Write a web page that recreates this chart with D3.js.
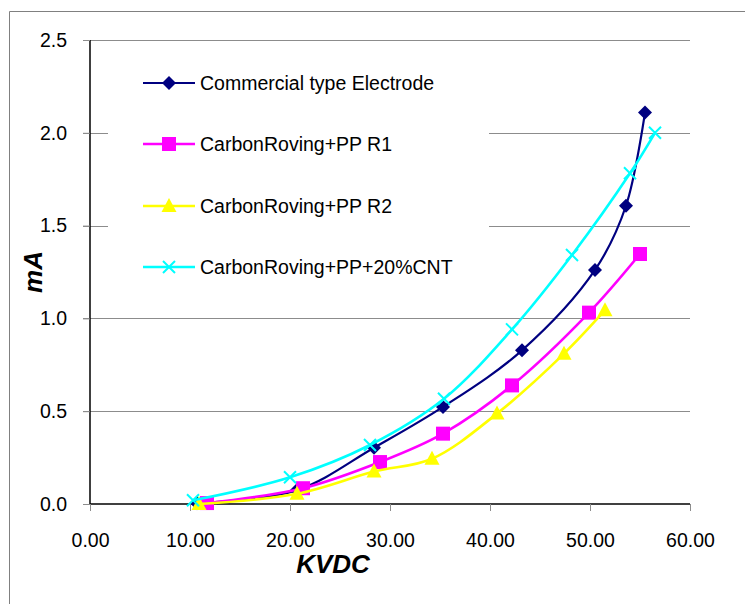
<!DOCTYPE html>
<html>
<head>
<script src="https://cdn.jsdelivr.net/npm/d3@7"></script>
<style>
  body { margin: 0; background: #fff; }
  text { font-family: Arial, "Liberation Sans", sans-serif; }
</style>
</head>
<body>
<svg id="chart" width="745" height="604"></svg>
<script>
// data (kV DC vs mA)
var seriesNames = ["Commercial type Electrode", "CarbonRoving+PP R1", "CarbonRoving+PP R2", "CarbonRoving+PP+20%CNT"];
var commercialX = [10.7, 20.7, 28.4, 35.3, 43.2, 50.5, 53.6, 55.5];
var commercialY = [0.004, 0.075, 0.303, 0.523, 0.828, 1.261, 1.607, 2.110];
var r1X = [11.7, 21.3, 29.0, 35.3, 42.2, 49.9, 55.0];
var r1Y = [0.005, 0.085, 0.226, 0.379, 0.639, 1.031, 1.347];
var r2X = [10.9, 20.7, 28.4, 34.2, 40.7, 47.4, 51.5];
var r2Y = [0.0, 0.055, 0.175, 0.244, 0.487, 0.81, 1.044];
var cntX = [10.3, 20.0, 28.0, 35.4, 42.2, 48.2, 54.0, 56.5];
var cntY = [0.02, 0.144, 0.318, 0.567, 0.941, 1.342, 1.782, 2.0];
var xTicks = [0, 10, 20, 30, 40, 50, 60];
var yTicks = [0, 0.5, 1.0, 1.5, 2.0, 2.5];

var colors = ["#000080", "#ff00ff", "#ffff00", "#00ffff"];
var markers = ["diamond", "square", "triangle", "cross"];

var svg = d3.select("#chart");

var x = d3.scaleLinear().domain([0, 60]).range([90, 690]);
var y = d3.scaleLinear().domain([0, 2.5]).range([504, 40]);

// outer chart frame
svg.append("path")
    .attr("d", "M9.5,604V11.5H745")
    .attr("fill", "none")
    .attr("stroke", "#808080")
    .attr("stroke-width", 1);

// gridlines
svg.append("g").selectAll("line")
    .data(yTicks.filter(function(d) { return d > 0; }))
    .enter().append("line")
    .attr("x1", 83).attr("x2", 690)
    .attr("y1", function(d) { return Math.round(y(d)) + 0.5; })
    .attr("y2", function(d) { return Math.round(y(d)) + 0.5; })
    .attr("stroke", "#8c8c8c")
    .attr("stroke-width", 1);

// legend background covers the grid behind it
svg.append("rect")
    .attr("x", 108).attr("y", 56)
    .attr("width", 381).attr("height", 236)
    .attr("fill", "#fff");

// axes
var xAxis = d3.axisBottom(x).tickValues(xTicks).tickFormat(d3.format(".2f")).tickSize(7).tickPadding(22);
var yAxis = d3.axisLeft(y).tickValues(yTicks).tickFormat(d3.format(".1f")).tickSize(7).tickPadding(16);

var gx = svg.append("g").attr("transform", "translate(0,504)").call(xAxis);
var gy = svg.append("g").attr("transform", "translate(90,0)").call(yAxis);
[gx, gy].forEach(function(g) {
    g.select(".domain").attr("stroke", "#000").attr("stroke-width", 1.5);
    g.selectAll(".tick line").attr("stroke", "#8c8c8c");
    g.selectAll(".tick text")
        .attr("fill", "#000")
        .style("font-size", "19.5px")
        .style("font-family", "Arial, 'Liberation Sans', sans-serif");
});
gy.select(".domain").attr("d", "M0," + y(2.5) + "V" + y(0));
gx.select(".domain").attr("d", "M" + x(0) + ",0H" + x(60));

// axis titles
svg.append("text")
    .attr("x", 333).attr("y", 573)
    .attr("text-anchor", "middle")
    .style("font-size", "26px").style("font-weight", "bold").style("font-style", "italic")
    .text("KVDC");
svg.append("text")
    .attr("transform", "translate(42,272) rotate(-90)")
    .attr("text-anchor", "middle")
    .style("font-size", "26px").style("font-weight", "bold").style("font-style", "italic")
    .text("mA");

function drawMarker(g, type, color) {
    if (type === "diamond") {
        g.append("path").attr("d", "M0,-7L7,0L0,7L-7,0Z").attr("fill", color);
    } else if (type === "square") {
        g.append("rect").attr("x", -7).attr("y", -7).attr("width", 14).attr("height", 14).attr("fill", color);
    } else if (type === "triangle") {
        g.append("path").attr("d", "M0,-8L7.5,6L-7.5,6Z").attr("fill", color);
    } else {
        g.append("path").attr("d", "M-6,-6L6,6M-6,6L6,-6").attr("stroke", color).attr("stroke-width", 2).attr("fill", "none");
    }
}

var allSeries = [
    { xs: commercialX, ys: commercialY },
    { xs: r1X, ys: r1Y },
    { xs: r2X, ys: r2Y },
    { xs: cntX, ys: cntY }
];

var line = d3.line()
    .x(function(d) { return x(d[0]); })
    .y(function(d) { return y(d[1]); })
    .curve(d3.curveCatmullRom.alpha(0.5));

// series drawn in order, last on top
allSeries.forEach(function(s, i) {
    var pts = s.xs.map(function(v, j) { return [v, s.ys[j]]; });
    var g = svg.append("g");
    g.append("path")
        .attr("d", line(pts))
        .attr("fill", "none")
        .attr("stroke", colors[i])
        .attr("stroke-width", i === 0 ? 2.2 : 2.6);
    pts.forEach(function(p) {
        var m = g.append("g").attr("transform", "translate(" + x(p[0]) + "," + y(p[1]) + ")");
        drawMarker(m, markers[i], colors[i]);
    });
});

// legend
var legendY = [83, 144, 206, 267];
seriesNames.forEach(function(name, i) {
    var g = svg.append("g").attr("transform", "translate(0," + legendY[i] + ")");
    g.append("line").attr("x1", 143).attr("x2", 195)
        .attr("stroke", colors[i]).attr("stroke-width", i === 0 ? 2.2 : 2.6);
    var m = g.append("g").attr("transform", "translate(169,0)");
    drawMarker(m, markers[i], colors[i]);
    g.append("text").attr("x", 200).attr("y", 7)
        .style("font-size", "19.5px")
        .text(name);
});
</script>
</body>
</html>
